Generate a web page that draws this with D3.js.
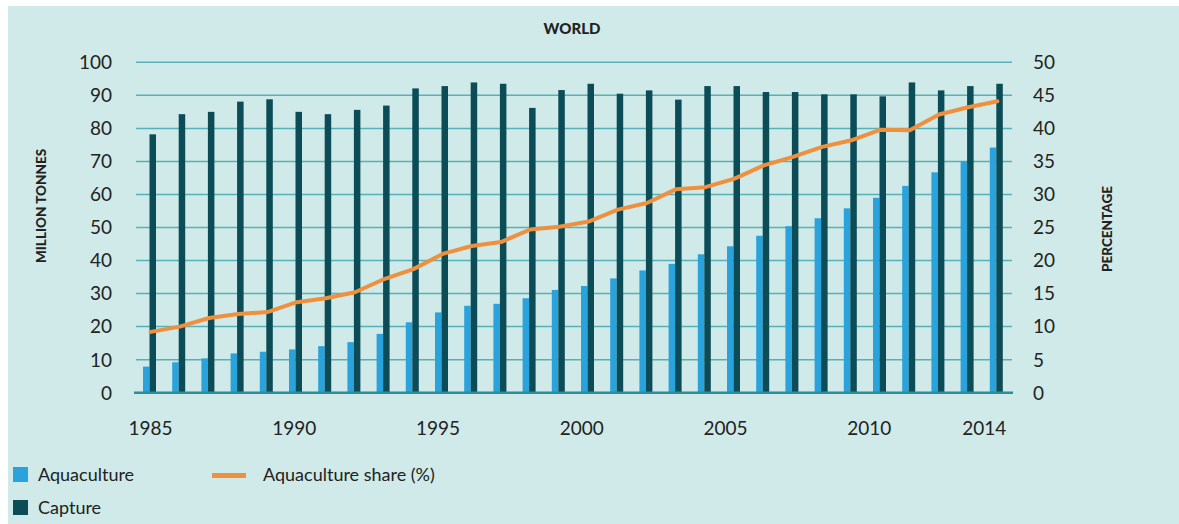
<!DOCTYPE html>
<html>
<head>
<meta charset="utf-8">
<script src="https://cdn.jsdelivr.net/npm/d3@7"></script>
<style>
  body { margin: 0; background: #fff; }
  text { font-family: Lato, "Open Sans", sans-serif; fill: #222; }
</style>
</head>
<body>
<svg width="1179" height="524"></svg>
<script>
var svg = d3.select("svg"),
    width = +svg.attr("width"),
    height = +svg.attr("height");

var years = d3.range(1985, 2015);

var aquaculture = [7.9, 9.2, 10.4, 11.9, 12.4, 13.1, 14.1, 15.3, 17.8, 21.3,
                   24.3, 26.3, 26.9, 28.6, 31.1, 32.3, 34.6, 37.0, 39.0, 41.9,
                   44.3, 47.5, 50.4, 52.8, 55.8, 59.0, 62.6, 66.7, 70.1, 74.2];

var capture = [78.2, 84.3, 85.0, 88.1, 88.8, 85.0, 84.3, 85.6, 86.9, 92.1,
               92.8, 93.9, 93.5, 86.2, 91.6, 93.5, 90.5, 91.5, 88.7, 92.8,
               92.8, 91.0, 91.0, 90.3, 90.3, 89.7, 93.9, 91.5, 92.8, 93.5];

var share = [9.2, 10.0, 11.3, 11.9, 12.2, 13.7, 14.3, 15.2, 17.2, 18.7,
             21.0, 22.2, 22.8, 24.7, 25.1, 25.9, 27.7, 28.7, 30.8, 31.1,
             32.4, 34.4, 35.7, 37.2, 38.2, 39.8, 39.7, 42.1, 43.2, 44.1];

var yearTicks = [1985, 1990, 1995, 2000, 2005, 2010, 2014];
var leftTicks = d3.range(0, 101, 10);
var rightTicks = d3.range(0, 51, 5);

var colAqua = "#2aa3dc",
    colCapture = "#0c4c56",
    colShare = "#ef903e",
    colGrid = "#57b2b7",
    colPanel = "#cfeae9";

// panel
svg.append("rect")
    .attr("x", 8).attr("y", 6)
    .attr("width", width - 8).attr("height", height - 6)
    .attr("fill", colPanel);

var x = d3.scaleBand()
    .domain(years)
    .range([136, 1012])
    .padding(0);

var x1 = d3.scaleBand()
    .domain(["aqua", "capture"])
    .range([7, 20]);

var y = d3.scaleLinear()
    .domain([0, 100])
    .range([392.7, 62.3]);

var y2 = d3.scaleLinear()
    .domain([0, 50])
    .range([392.7, 62.3]);

// grid
svg.append("g")
  .selectAll("line")
  .data(leftTicks.filter(function(d) { return d > 0; }))
  .enter().append("line")
    .attr("x1", 136).attr("x2", 1012)
    .attr("y1", function(d) { return y(d); })
    .attr("y2", function(d) { return y(d); })
    .attr("stroke", colGrid)
    .attr("stroke-width", 1.5);

// bars
var groups = svg.append("g")
  .selectAll("g")
  .data(years)
  .enter().append("g")
    .attr("transform", function(d) { return "translate(" + x(d) + ",0)"; });

groups.append("rect")
    .attr("x", x1("aqua"))
    .attr("width", x1.bandwidth())
    .attr("y", function(d, i) { return y(aquaculture[i]); })
    .attr("height", function(d, i) { return y(0) - y(aquaculture[i]); })
    .attr("fill", colAqua);

groups.append("rect")
    .attr("x", x1("capture"))
    .attr("width", x1.bandwidth())
    .attr("y", function(d, i) { return y(capture[i]); })
    .attr("height", function(d, i) { return y(0) - y(capture[i]); })
    .attr("fill", colCapture);

// baseline
svg.append("line")
    .attr("x1", 134).attr("x2", 1013)
    .attr("y1", y(0)).attr("y2", y(0))
    .attr("stroke", "#2b8e98")
    .attr("stroke-width", 2.5);

// share line
var line = d3.line()
    .x(function(d, i) { return x(years[i]) + x.bandwidth() / 2; })
    .y(function(d) { return y2(d); });

svg.append("path")
    .datum(share)
    .attr("d", line)
    .attr("fill", "none")
    .attr("stroke", colShare)
    .attr("stroke-width", 4)
    .attr("stroke-linejoin", "round")
    .attr("stroke-linecap", "round");

// left axis labels
svg.append("g")
  .selectAll("text")
  .data(leftTicks)
  .enter().append("text")
    .attr("x", 112)
    .attr("y", function(d) { return y(d); })
    .attr("dy", "0.36em")
    .attr("text-anchor", "end")
    .style("font-size", "19px")
    .text(function(d) { return d; });

// right axis labels
svg.append("g")
  .selectAll("text")
  .data(rightTicks)
  .enter().append("text")
    .attr("x", 1033)
    .attr("y", function(d) { return y2(d); })
    .attr("dy", "0.36em")
    .attr("text-anchor", "start")
    .style("font-size", "19px")
    .text(function(d) { return d; });

// x labels
svg.append("g")
  .selectAll("text")
  .data(yearTicks)
  .enter().append("text")
    .attr("x", function(d) { return x(d) + x.bandwidth() / 2 - (d - 1985) * 0.45; })
    .attr("y", 435)
    .attr("text-anchor", "middle")
    .style("font-size", "19px")
    .text(function(d) { return d; });

// titles
svg.append("text")
    .attr("x", 572).attr("y", 34)
    .attr("text-anchor", "middle")
    .style("font-size", "15px")
    .style("font-weight", "900")
    .text("WORLD");

svg.append("text")
    .attr("transform", "translate(46,206) rotate(-90)")
    .attr("text-anchor", "middle")
    .style("font-size", "13.5px")
    .style("font-weight", "900")
    .text("MILLION TONNES");

svg.append("text")
    .attr("transform", "translate(1112,229) rotate(-90)")
    .attr("text-anchor", "middle")
    .style("font-size", "13.5px")
    .style("font-weight", "900")
    .text("PERCENTAGE");

// legend
var legend = svg.append("g");

legend.append("rect")
    .attr("x", 13).attr("y", 467).attr("width", 15).attr("height", 15)
    .attr("fill", colAqua);
legend.append("text")
    .attr("x", 38).attr("y", 481)
    .style("font-size", "18px")
    .text("Aquaculture");

legend.append("rect")
    .attr("x", 13).attr("y", 500).attr("width", 15).attr("height", 15)
    .attr("fill", colCapture);
legend.append("text")
    .attr("x", 38).attr("y", 514)
    .style("font-size", "18px")
    .text("Capture");

legend.append("line")
    .attr("x1", 212).attr("x2", 246)
    .attr("y1", 475.5).attr("y2", 475.5)
    .attr("stroke", colShare)
    .attr("stroke-width", 5);
legend.append("text")
    .attr("x", 263).attr("y", 481)
    .style("font-size", "18px")
    .text("Aquaculture share (%)");
</script>
</body>
</html>
